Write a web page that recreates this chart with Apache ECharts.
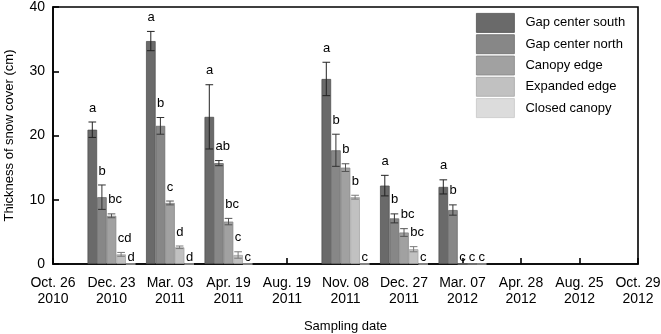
<!DOCTYPE html>
<html>
<head>
<meta charset="utf-8">
<script src="https://cdn.jsdelivr.net/npm/echarts@6/dist/echarts.min.js"></script>
<style>html,body{margin:0;padding:0;background:#fff;}#c{width:661px;height:334px;}</style>
</head>
<body>
<div id="c"></div>
<script>
const categories = ['Oct. 26\n2010','Dec. 23\n2010','Mar. 03\n2011','Apr. 19\n2011','Aug. 19\n2011','Nov. 08\n2011','Dec. 27\n2011','Mar. 07\n2012','Apr. 28\n2012','Aug. 25\n2012','Oct. 29\n2012'];
const seriesNames = ['Gap center south','Gap center north','Canopy edge','Expanded edge','Closed canopy'];

const gapSouth        = [null, 20.9, 34.7, 22.9, null, 28.8, 12.2, 12.0, null, null, null];
const gapSouthErr     = [null,  1.2,  1.5,  5.0, null,  2.6,  1.6,  1.1, null, null, null];
const gapSouthLetters = ['', 'a', 'a', 'a', '', 'a', 'a', 'a', '', '', ''];

const gapNorth        = [null, 10.4, 21.5, 15.7, null, 17.7, 7.1, 8.4, null, null, null];
const gapNorthErr     = [null,  1.9,  1.3,  0.4, null,  2.5, 0.7, 0.8, null, null, null];
const gapNorthLetters = ['', 'b', 'b', 'ab', '', 'b', 'b', 'b', '', '', ''];

const canopyEdge        = [null, 7.5, 9.5, 6.6, null, 15.0, 4.9, 0, null, null, null];
const canopyEdgeErr     = [null, 0.3, 0.3, 0.5, null,  0.6, 0.6, 0, null, null, null];
const canopyEdgeLetters = ['', 'bc', 'c', 'bc', '', 'b', 'bc', 'c', '', '', ''];

const expandedEdge        = [null, 1.5, 2.6, 1.4, null, 10.4, 2.3, 0, null, null, null];
const expandedEdgeErr     = [null, 0.3, 0.2, 0.5, null,  0.3, 0.4, 0, null, null, null];
const expandedEdgeLetters = ['', 'cd', 'd', 'c', '', 'b', 'bc', 'c', '', '', ''];

const closedCanopy        = [null, 0, 0, 0, null, 0, 0, 0, null, null, null];
const closedCanopyErr     = [null, 0, 0, 0, null, 0, 0, 0, null, null, null];
const closedCanopyLetters = ['', 'd', 'd', 'c', '', 'c', 'c', 'c', '', '', ''];

const yTicks = {min: 0, max: 40, interval: 10};

const means = [gapSouth, gapNorth, canopyEdge, expandedEdge, closedCanopy];
const errs = [gapSouthErr, gapNorthErr, canopyEdgeErr, expandedEdgeErr, closedCanopyErr];
const letters = [gapSouthLetters, gapNorthLetters, canopyEdgeLetters, expandedEdgeLetters, closedCanopyLetters];

const fills = ['#6a6a6a', '#878787', '#a1a1a1', '#c1c1c1', '#dcdcdc'];
const borders = ['#505050', '#6c6c6c', '#868686', '#a6a6a6', '#c6c6c6'];
const errColors = ['#222222', '#333333', '#555555', '#7a7a7a', '#9a9a9a'];
const catGap = 0.18;
const FONT = 'Liberation Sans, Arial, sans-serif';

const series = [];
seriesNames.forEach((name, s) => {
  series.push({
    name: name,
    type: 'bar',
    data: means[s].map(v => v === null ? '-' : v),
    barGap: '0%',
    barCategoryGap: (catGap * 100) + '%',
    itemStyle: {color: fills[s], borderColor: borders[s], borderWidth: 0.8},
    z: 2
  });
});
seriesNames.forEach((name, s) => {
  const data = [];
  means[s].forEach((v, i) => { if (v !== null) data.push([i, v, errs[s][i], letters[s][i]]); });
  series.push({
    name: name + ' err',
    type: 'custom',
    z: 5,
    silent: true,
    data: data,
    encode: {x: 0, y: 1},
    renderItem: function (params, api) {
      const i = api.value(0), v = api.value(1), e = api.value(2);
      const letter = data[params.dataIndex][3];
      const band = api.size([1, 0])[0];
      const bw = band * (1 - catGap) / seriesNames.length;
      const base = api.coord([i, 0]);
      const cx = base[0] + (s - (seriesNames.length - 1) / 2) * bw;
      const children = [];
      const hw = bw * 0.4;
      let topY = api.coord([i, v])[1];
      if (e > 0) {
        const yHi = api.coord([i, v + e])[1];
        const yLo = api.coord([i, v - e])[1];
        const st = {stroke: errColors[s], lineWidth: 1};
        children.push({type: 'line', shape: {x1: cx, y1: yHi, x2: cx, y2: yLo}, style: st});
        children.push({type: 'line', shape: {x1: cx - hw, y1: yHi, x2: cx + hw, y2: yHi}, style: st});
        children.push({type: 'line', shape: {x1: cx - hw, y1: yLo, x2: cx + hw, y2: yLo}, style: st});
        topY = yHi;
      }
      if (letter) {
        const ty = v > 0 ? topY - 14 : base[1] - 6.5;
        children.push({type: 'text', x: cx - bw / 2 + 1.5, y: ty,
          style: {text: letter, fill: '#000', font: '13px ' + FONT, align: 'left', verticalAlign: 'middle'}});
      }
      return {type: 'group', children: children};
    }
  });
});

const chart = echarts.init(document.getElementById('c'), null, {renderer: 'canvas'});
chart.setOption({
  animation: false,
  backgroundColor: '#fff',
  textStyle: {fontFamily: FONT},
  grid: {left: 53, right: 23, top: 7, bottom: 70, show: true, borderColor: '#000', borderWidth: 1.6, backgroundColor: 'transparent', outerBoundsMode: 'none', containLabel: false},
  legend: {
    data: seriesNames,
    orient: 'vertical',
    left: 476, top: 13, padding: 0,
    itemWidth: 38, itemHeight: 19, itemGap: 1.5,
    icon: 'rect',
    textStyle: {fontSize: 13, color: '#000', fontFamily: FONT, padding: [0, 0, 0, 6]},
    itemStyle: {borderWidth: 0.8}
  },
  xAxis: {
    type: 'category',
    data: categories,
    boundaryGap: false,
    name: 'Sampling date',
    nameLocation: 'middle',
    nameGap: 56,
    nameTextStyle: {fontSize: 13, color: '#000', fontFamily: FONT},
    axisLine: {lineStyle: {color: '#000', width: 1.6}},
    axisTick: {inside: true, length: 6, lineStyle: {color: '#000', width: 1.6}},
    axisLabel: {fontSize: 14, color: '#000', lineHeight: 16, margin: 11, interval: 0, fontFamily: FONT},
    splitLine: {show: false}
  },
  yAxis: {
    type: 'value',
    min: yTicks.min, max: yTicks.max, interval: yTicks.interval,
    name: 'Thickness of snow cover (cm)',
    nameLocation: 'middle',
    nameGap: 37,
    nameTextStyle: {fontSize: 13, color: '#000', fontFamily: FONT},
    axisLine: {show: true, lineStyle: {color: '#000', width: 1.6}},
    axisTick: {show: true, inside: true, length: 6, lineStyle: {color: '#000', width: 1.6}},
    axisLabel: {fontSize: 14, color: '#000', margin: 8, fontFamily: FONT},
    splitLine: {show: false}
  },
  series: series
});
</script>
</body>
</html>
